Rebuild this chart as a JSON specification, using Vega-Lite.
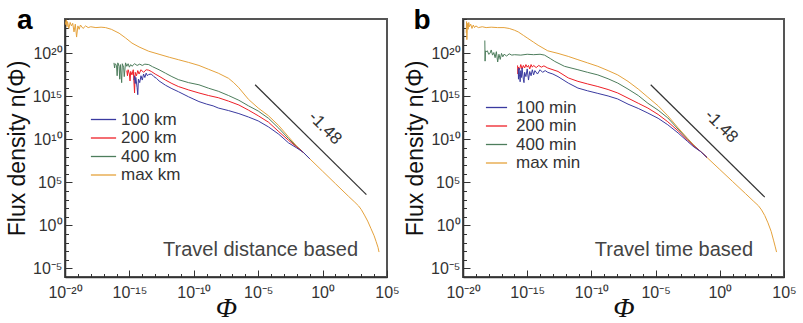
{
  "$schema": "https://vega.github.io/schema/vega-lite/v6.json",
  "padding": {"left": 5, "top": 5, "right": 0, "bottom": 0},
  "spacing": 2,
  "config": {
    "font": "Liberation Sans",
    "view": {"stroke": "#555", "strokeWidth": 2},
    "axis": {"grid": false, "domainColor": "#333", "domainWidth": 1.5, "tickColor": "#333", "tickWidth": 1, "labelColor": "#333", "labelFont": "Liberation Sans", "labelFontSize": 16, "labelFlush": false, "labelOverlap": false, "titleColor": "#111", "titleFontWeight": "normal"}
  },
  "resolve": {"scale": {"color": "independent"}, "legend": {"color": "independent"}},
  "datasets": {
    "curves": [
      {"panel":"a","series":"max km","phi":1e-20,"flux":2.0e23},
      {"panel":"a","series":"max km","phi":1.26e-20,"flux":7.94e23},
      {"panel":"a","series":"max km","phi":1.41e-20,"flux":1.26e23},
      {"panel":"a","series":"max km","phi":1.58e-20,"flux":5.01e23},
      {"panel":"a","series":"max km","phi":2.0e-20,"flux":7.94e22},
      {"panel":"a","series":"max km","phi":2.51e-20,"flux":3.98e23},
      {"panel":"a","series":"max km","phi":3.16e-20,"flux":1.58e23},
      {"panel":"a","series":"max km","phi":3.98e-20,"flux":3.16e23},
      {"panel":"a","series":"max km","phi":5.01e-20,"flux":3.16e22},
      {"panel":"a","series":"max km","phi":6.31e-20,"flux":2.51e23},
      {"panel":"a","series":"max km","phi":7.94e-20,"flux":7.94e21},
      {"panel":"a","series":"max km","phi":1e-19,"flux":1.58e23},
      {"panel":"a","series":"max km","phi":1.26e-19,"flux":6.31e22},
      {"panel":"a","series":"max km","phi":1.58e-19,"flux":2.0e23},
      {"panel":"a","series":"max km","phi":2.51e-19,"flux":7.94e22},
      {"panel":"a","series":"max km","phi":3.98e-19,"flux":1.58e23},
      {"panel":"a","series":"max km","phi":6.31e-19,"flux":1e23},
      {"panel":"a","series":"max km","phi":1e-18,"flux":1.26e23},
      {"panel":"a","series":"max km","phi":2.51e-18,"flux":1e23},
      {"panel":"a","series":"max km","phi":6.31e-18,"flux":1.12e23},
      {"panel":"a","series":"max km","phi":1.41e-17,"flux":1e23},
      {"panel":"a","series":"max km","phi":3.98e-17,"flux":6.31e22},
      {"panel":"a","series":"max km","phi":1.58e-16,"flux":2.24e22},
      {"panel":"a","series":"max km","phi":5.01e-16,"flux":6.31e21},
      {"panel":"a","series":"max km","phi":1.58e-15,"flux":1.58e21},
      {"panel":"a","series":"max km","phi":5.62e-15,"flux":5.62e20},
      {"panel":"a","series":"max km","phi":3.16e-14,"flux":1.78e20},
      {"panel":"a","series":"max km","phi":2.0e-13,"flux":7.94e19},
      {"panel":"a","series":"max km","phi":1.26e-12,"flux":3.55e19},
      {"panel":"a","series":"max km","phi":6.31e-12,"flux":1.86e19},
      {"panel":"a","series":"max km","phi":3.98e-11,"flux":8.91e18},
      {"panel":"a","series":"max km","phi":2.51e-10,"flux":3.98e18},
      {"panel":"a","series":"max km","phi":1.41e-9,"flux":1.41e18},
      {"panel":"a","series":"max km","phi":7.94e-9,"flux":5.01e17},
      {"panel":"a","series":"max km","phi":5.01e-8,"flux":1.26e17},
      {"panel":"a","series":"max km","phi":1.26e-7,"flux":3.98e16},
      {"panel":"a","series":"max km","phi":3.16e-7,"flux":1e16},
      {"panel":"a","series":"max km","phi":1.78e-6,"flux":4.47e14},
      {"panel":"a","series":"max km","phi":1e-5,"flux":4.47e13},
      {"panel":"a","series":"max km","phi":6.31e-5,"flux":5.62e12},
      {"panel":"a","series":"max km","phi":3.98e-4,"flux":3.98e11},
      {"panel":"a","series":"max km","phi":2.24e-3,"flux":2.0e10},
      {"panel":"a","series":"max km","phi":0.01,"flux":1.58e9},
      {"panel":"a","series":"max km","phi":0.0316,"flux":3.16e8},
      {"panel":"a","series":"max km","phi":0.1,"flux":5.62e7},
      {"panel":"a","series":"max km","phi":1,"flux":2.0e6},
      {"panel":"a","series":"max km","phi":10,"flux":7.08e4},
      {"panel":"a","series":"max km","phi":100,"flux":2510},
      {"panel":"a","series":"max km","phi":316,"flux":501},
      {"panel":"a","series":"max km","phi":631,"flux":178},
      {"panel":"a","series":"max km","phi":1000,"flux":70.8},
      {"panel":"a","series":"max km","phi":1780,"flux":15.8},
      {"panel":"a","series":"max km","phi":3160,"flux":3.16},
      {"panel":"a","series":"max km","phi":5620,"flux":0.447},
      {"panel":"a","series":"max km","phi":1e4,"flux":0.0631},
      {"panel":"a","series":"max km","phi":1.41e4,"flux":0.0141},
      {"panel":"a","series":"max km","phi":2.0e4,"flux":2.82e-3},
      {"panel":"a","series":"max km","phi":2.4e4,"flux":7.94e-4},

      {"panel":"a","series":"400 km","phi":6.31e-17,"flux":7.94e18},
      {"panel":"a","series":"400 km","phi":7.08e-17,"flux":2.0e18},
      {"panel":"a","series":"400 km","phi":7.94e-17,"flux":6.31e18},
      {"panel":"a","series":"400 km","phi":1e-16,"flux":3.98e18},
      {"panel":"a","series":"400 km","phi":1.12e-16,"flux":2.51e17},
      {"panel":"a","series":"400 km","phi":1.26e-16,"flux":7.94e18},
      {"panel":"a","series":"400 km","phi":1.58e-16,"flux":3.16e18},
      {"panel":"a","series":"400 km","phi":1.78e-16,"flux":1e17},
      {"panel":"a","series":"400 km","phi":2.0e-16,"flux":5.01e18},
      {"panel":"a","series":"400 km","phi":2.51e-16,"flux":3.98e16},
      {"panel":"a","series":"400 km","phi":2.82e-16,"flux":6.31e18},
      {"panel":"a","series":"400 km","phi":3.55e-16,"flux":2.51e18},
      {"panel":"a","series":"400 km","phi":3.98e-16,"flux":2.0e17},
      {"panel":"a","series":"400 km","phi":5.01e-16,"flux":7.94e18},
      {"panel":"a","series":"400 km","phi":6.31e-16,"flux":3.16e18},
      {"panel":"a","series":"400 km","phi":7.94e-16,"flux":6.31e18},
      {"panel":"a","series":"400 km","phi":1e-15,"flux":2.51e18},
      {"panel":"a","series":"400 km","phi":1.26e-15,"flux":5.01e18},
      {"panel":"a","series":"400 km","phi":1.58e-15,"flux":3.16e18},
      {"panel":"a","series":"400 km","phi":2.51e-15,"flux":6.31e18},
      {"panel":"a","series":"400 km","phi":3.98e-15,"flux":3.98e18},
      {"panel":"a","series":"400 km","phi":6.31e-15,"flux":5.62e18},
      {"panel":"a","series":"400 km","phi":1e-14,"flux":3.98e18},
      {"panel":"a","series":"400 km","phi":1.58e-14,"flux":5.62e18},
      {"panel":"a","series":"400 km","phi":3.16e-14,"flux":5.01e18},
      {"panel":"a","series":"400 km","phi":6.31e-14,"flux":2.82e18},
      {"panel":"a","series":"400 km","phi":2.0e-13,"flux":1.26e18},
      {"panel":"a","series":"400 km","phi":6.31e-13,"flux":5.01e17},
      {"panel":"a","series":"400 km","phi":2.0e-12,"flux":2.0e17},
      {"panel":"a","series":"400 km","phi":6.31e-12,"flux":8.91e16},
      {"panel":"a","series":"400 km","phi":3.98e-11,"flux":3.98e16},
      {"panel":"a","series":"400 km","phi":2.51e-10,"flux":2.24e16},
      {"panel":"a","series":"400 km","phi":1.41e-9,"flux":8.91e15},
      {"panel":"a","series":"400 km","phi":7.94e-9,"flux":3.98e15},
      {"panel":"a","series":"400 km","phi":5.01e-8,"flux":1.26e15},
      {"panel":"a","series":"400 km","phi":3.16e-7,"flux":3.55e14},
      {"panel":"a","series":"400 km","phi":1.78e-6,"flux":7.94e13},
      {"panel":"a","series":"400 km","phi":1e-5,"flux":2.0e13},
      {"panel":"a","series":"400 km","phi":6.31e-5,"flux":2.82e12},
      {"panel":"a","series":"400 km","phi":3.98e-4,"flux":2.0e11},
      {"panel":"a","series":"400 km","phi":2.24e-3,"flux":1.26e10},
      {"panel":"a","series":"400 km","phi":0.01,"flux":1.41e9},
      {"panel":"a","series":"400 km","phi":0.0316,"flux":3.16e8},
      {"panel":"a","series":"400 km","phi":0.1,"flux":5.62e7},

      {"panel":"a","series":"200 km","phi":6.31e-16,"flux":1e18},
      {"panel":"a","series":"200 km","phi":7.08e-16,"flux":2.51e17},
      {"panel":"a","series":"200 km","phi":7.94e-16,"flux":1.26e18},
      {"panel":"a","series":"200 km","phi":1e-15,"flux":3.98e17},
      {"panel":"a","series":"200 km","phi":1.12e-15,"flux":6.31e16},
      {"panel":"a","series":"200 km","phi":1.26e-15,"flux":7.94e17},
      {"panel":"a","series":"200 km","phi":1.58e-15,"flux":3.16e17},
      {"panel":"a","series":"200 km","phi":2.0e-15,"flux":1.26e18},
      {"panel":"a","series":"200 km","phi":2.51e-15,"flux":2.51e15},
      {"panel":"a","series":"200 km","phi":2.82e-15,"flux":6.31e17},
      {"panel":"a","series":"200 km","phi":3.55e-15,"flux":2.51e17},
      {"panel":"a","series":"200 km","phi":4.47e-15,"flux":1e18},
      {"panel":"a","series":"200 km","phi":5.62e-15,"flux":3.98e17},
      {"panel":"a","series":"200 km","phi":7.94e-15,"flux":1.26e18},
      {"panel":"a","series":"200 km","phi":1.26e-14,"flux":6.31e17},
      {"panel":"a","series":"200 km","phi":2.0e-14,"flux":1.26e18},
      {"panel":"a","series":"200 km","phi":3.16e-14,"flux":1.12e18},
      {"panel":"a","series":"200 km","phi":5.01e-14,"flux":7.94e17},
      {"panel":"a","series":"200 km","phi":1e-13,"flux":3.98e17},
      {"panel":"a","series":"200 km","phi":2.0e-13,"flux":2.24e17},
      {"panel":"a","series":"200 km","phi":6.31e-13,"flux":7.94e16},
      {"panel":"a","series":"200 km","phi":2.0e-12,"flux":3.16e16},
      {"panel":"a","series":"200 km","phi":6.31e-12,"flux":1.41e16},
      {"panel":"a","series":"200 km","phi":3.98e-11,"flux":5.62e15},
      {"panel":"a","series":"200 km","phi":2.51e-10,"flux":2.51e15},
      {"panel":"a","series":"200 km","phi":1.41e-9,"flux":1.26e15},
      {"panel":"a","series":"200 km","phi":7.94e-9,"flux":7.08e14},
      {"panel":"a","series":"200 km","phi":5.01e-8,"flux":2.82e14},
      {"panel":"a","series":"200 km","phi":3.16e-7,"flux":1e14},
      {"panel":"a","series":"200 km","phi":1.78e-6,"flux":2.51e13},
      {"panel":"a","series":"200 km","phi":1e-5,"flux":5.62e12},
      {"panel":"a","series":"200 km","phi":6.31e-5,"flux":1e12},
      {"panel":"a","series":"200 km","phi":3.98e-4,"flux":7.94e10},
      {"panel":"a","series":"200 km","phi":2.24e-3,"flux":7.94e9},
      {"panel":"a","series":"200 km","phi":0.01,"flux":1.26e9},
      {"panel":"a","series":"200 km","phi":0.0316,"flux":3.16e8},
      {"panel":"a","series":"200 km","phi":0.1,"flux":5.62e7},

      {"panel":"a","series":"100 km","phi":2.24e-15,"flux":7.94e16},
      {"panel":"a","series":"100 km","phi":2.51e-15,"flux":2.51e17},
      {"panel":"a","series":"100 km","phi":2.82e-15,"flux":3.16e16},
      {"panel":"a","series":"100 km","phi":3.16e-15,"flux":1.58e17},
      {"panel":"a","series":"100 km","phi":3.98e-15,"flux":1e16},
      {"panel":"a","series":"100 km","phi":4.47e-15,"flux":1.58e15},
      {"panel":"a","series":"100 km","phi":5.01e-15,"flux":1e17},
      {"panel":"a","series":"100 km","phi":6.31e-15,"flux":3.98e16},
      {"panel":"a","series":"100 km","phi":7.94e-15,"flux":2.51e17},
      {"panel":"a","series":"100 km","phi":1e-14,"flux":7.94e16},
      {"panel":"a","series":"100 km","phi":1.26e-14,"flux":3.98e17},
      {"panel":"a","series":"100 km","phi":1.58e-14,"flux":1.58e17},
      {"panel":"a","series":"100 km","phi":2.0e-14,"flux":5.01e17},
      {"panel":"a","series":"100 km","phi":2.51e-14,"flux":2.51e17},
      {"panel":"a","series":"100 km","phi":3.16e-14,"flux":3.55e17},
      {"panel":"a","series":"100 km","phi":5.01e-14,"flux":3.98e17},
      {"panel":"a","series":"100 km","phi":7.94e-14,"flux":2.0e17},
      {"panel":"a","series":"100 km","phi":1.26e-13,"flux":1.26e17},
      {"panel":"a","series":"100 km","phi":2.0e-13,"flux":6.31e16},
      {"panel":"a","series":"100 km","phi":6.31e-13,"flux":2.0e16},
      {"panel":"a","series":"100 km","phi":2.0e-12,"flux":7.94e15},
      {"panel":"a","series":"100 km","phi":6.31e-12,"flux":3.55e15},
      {"panel":"a","series":"100 km","phi":3.98e-11,"flux":8.91e14},
      {"panel":"a","series":"100 km","phi":2.51e-10,"flux":2.51e14},
      {"panel":"a","series":"100 km","phi":1e-9,"flux":1.26e14},
      {"panel":"a","series":"100 km","phi":3.16e-9,"flux":7.94e13},
      {"panel":"a","series":"100 km","phi":7.94e-9,"flux":4.47e13},
      {"panel":"a","series":"100 km","phi":5.01e-8,"flux":2.24e13},
      {"panel":"a","series":"100 km","phi":3.16e-7,"flux":1e13},
      {"panel":"a","series":"100 km","phi":1.78e-6,"flux":3.98e12},
      {"panel":"a","series":"100 km","phi":1e-5,"flux":1.41e12},
      {"panel":"a","series":"100 km","phi":6.31e-5,"flux":2.82e11},
      {"panel":"a","series":"100 km","phi":3.98e-4,"flux":3.98e10},
      {"panel":"a","series":"100 km","phi":2.24e-3,"flux":3.98e9},
      {"panel":"a","series":"100 km","phi":0.01,"flux":1e9},
      {"panel":"a","series":"100 km","phi":0.0316,"flux":3.16e8},
      {"panel":"a","series":"100 km","phi":0.1,"flux":5.62e7},

      {"panel":"b","series":"max min","phi":1.78e-20,"flux":2.51e22},
      {"panel":"b","series":"max min","phi":1.91e-20,"flux":5.01e23},
      {"panel":"b","series":"max min","phi":2.0e-20,"flux":3.98e21},
      {"panel":"b","series":"max min","phi":2.19e-20,"flux":3.16e23},
      {"panel":"b","series":"max min","phi":2.51e-20,"flux":6.31e22},
      {"panel":"b","series":"max min","phi":2.82e-20,"flux":3.98e23},
      {"panel":"b","series":"max min","phi":3.16e-20,"flux":1.26e23},
      {"panel":"b","series":"max min","phi":3.98e-20,"flux":2.51e23},
      {"panel":"b","series":"max min","phi":5.01e-20,"flux":7.94e22},
      {"panel":"b","series":"max min","phi":6.31e-20,"flux":2.0e23},
      {"panel":"b","series":"max min","phi":7.94e-20,"flux":1e23},
      {"panel":"b","series":"max min","phi":1e-19,"flux":1.58e23},
      {"panel":"b","series":"max min","phi":1.58e-19,"flux":1e23},
      {"panel":"b","series":"max min","phi":3.16e-19,"flux":1.26e23},
      {"panel":"b","series":"max min","phi":6.31e-19,"flux":1e23},
      {"panel":"b","series":"max min","phi":1.58e-18,"flux":1.12e23},
      {"panel":"b","series":"max min","phi":5.01e-18,"flux":1e23},
      {"panel":"b","series":"max min","phi":1.58e-17,"flux":1e23},
      {"panel":"b","series":"max min","phi":3.98e-17,"flux":7.94e22},
      {"panel":"b","series":"max min","phi":1e-16,"flux":5.01e22},
      {"panel":"b","series":"max min","phi":2.0e-16,"flux":3.16e22},
      {"panel":"b","series":"max min","phi":5.01e-16,"flux":1.26e22},
      {"panel":"b","series":"max min","phi":1.12e-15,"flux":5.62e21},
      {"panel":"b","series":"max min","phi":3.16e-15,"flux":2.0e21},
      {"panel":"b","series":"max min","phi":7.08e-15,"flux":8.91e20},
      {"panel":"b","series":"max min","phi":3.98e-14,"flux":2.0e20},
      {"panel":"b","series":"max min","phi":2.51e-13,"flux":1e20},
      {"panel":"b","series":"max min","phi":1.58e-12,"flux":4.47e19},
      {"panel":"b","series":"max min","phi":8.91e-12,"flux":1.86e19},
      {"panel":"b","series":"max min","phi":5.01e-11,"flux":7.94e18},
      {"panel":"b","series":"max min","phi":3.16e-10,"flux":3.16e18},
      {"panel":"b","series":"max min","phi":2.0e-9,"flux":1e18},
      {"panel":"b","series":"max min","phi":1.12e-8,"flux":3.16e17},
      {"panel":"b","series":"max min","phi":7.08e-8,"flux":5.62e16},
      {"panel":"b","series":"max min","phi":4.47e-7,"flux":7.08e15},
      {"panel":"b","series":"max min","phi":2.51e-6,"flux":7.94e14},
      {"panel":"b","series":"max min","phi":1.58e-5,"flux":7.94e13},
      {"panel":"b","series":"max min","phi":8.91e-5,"flux":5.62e12},
      {"panel":"b","series":"max min","phi":5.62e-4,"flux":2.24e11},
      {"panel":"b","series":"max min","phi":3.16e-3,"flux":1.26e10},
      {"panel":"b","series":"max min","phi":0.01,"flux":2.0e9},
      {"panel":"b","series":"max min","phi":0.0316,"flux":3.98e8},
      {"panel":"b","series":"max min","phi":0.1,"flux":7.94e7},
      {"panel":"b","series":"max min","phi":1,"flux":3.16e6},
      {"panel":"b","series":"max min","phi":10,"flux":1.26e5},
      {"panel":"b","series":"max min","phi":100,"flux":5010},
      {"panel":"b","series":"max min","phi":398,"flux":708},
      {"panel":"b","series":"max min","phi":1000,"flux":200},
      {"panel":"b","series":"max min","phi":1780,"flux":63.1},
      {"panel":"b","series":"max min","phi":3160,"flux":14.1},
      {"panel":"b","series":"max min","phi":5620,"flux":2.0},
      {"panel":"b","series":"max min","phi":1e4,"flux":0.2},
      {"panel":"b","series":"max min","phi":1.58e4,"flux":0.0158},
      {"panel":"b","series":"max min","phi":2.09e4,"flux":3.16e-3},
      {"panel":"b","series":"max min","phi":2.63e4,"flux":7.94e-4},

      {"panel":"b","series":"400 min","phi":5.01e-19,"flux":3.16e21},
      {"panel":"b","series":"400 min","phi":5.25e-19,"flux":1.26e19},
      {"panel":"b","series":"400 min","phi":5.62e-19,"flux":2.0e20},
      {"panel":"b","series":"400 min","phi":6.31e-19,"flux":1.58e20},
      {"panel":"b","series":"400 min","phi":7.94e-19,"flux":2.0e20},
      {"panel":"b","series":"400 min","phi":1e-18,"flux":7.94e19},
      {"panel":"b","series":"400 min","phi":1.26e-18,"flux":1e20},
      {"panel":"b","series":"400 min","phi":1.58e-18,"flux":2.51e20},
      {"panel":"b","series":"400 min","phi":2.0e-18,"flux":6.31e19},
      {"panel":"b","series":"400 min","phi":2.51e-18,"flux":1.26e20},
      {"panel":"b","series":"400 min","phi":3.16e-18,"flux":3.16e19},
      {"panel":"b","series":"400 min","phi":3.98e-18,"flux":1.58e20},
      {"panel":"b","series":"400 min","phi":5.01e-18,"flux":1e19},
      {"panel":"b","series":"400 min","phi":6.31e-18,"flux":7.94e19},
      {"panel":"b","series":"400 min","phi":7.94e-18,"flux":2.0e19},
      {"panel":"b","series":"400 min","phi":1e-17,"flux":1e20},
      {"panel":"b","series":"400 min","phi":1.26e-17,"flux":3.98e19},
      {"panel":"b","series":"400 min","phi":1.58e-17,"flux":7.94e19},
      {"panel":"b","series":"400 min","phi":2.51e-17,"flux":5.01e19},
      {"panel":"b","series":"400 min","phi":3.98e-17,"flux":8.91e19},
      {"panel":"b","series":"400 min","phi":6.31e-17,"flux":6.31e19},
      {"panel":"b","series":"400 min","phi":1e-16,"flux":7.08e19},
      {"panel":"b","series":"400 min","phi":3.16e-16,"flux":6.31e19},
      {"panel":"b","series":"400 min","phi":1e-15,"flux":7.94e19},
      {"panel":"b","series":"400 min","phi":3.16e-15,"flux":7.08e19},
      {"panel":"b","series":"400 min","phi":1e-14,"flux":7.94e19},
      {"panel":"b","series":"400 min","phi":2.24e-14,"flux":6.31e19},
      {"panel":"b","series":"400 min","phi":6.31e-14,"flux":2.51e19},
      {"panel":"b","series":"400 min","phi":1.41e-13,"flux":1.17e19},
      {"panel":"b","series":"400 min","phi":7.94e-13,"flux":3.16e18},
      {"panel":"b","series":"400 min","phi":8.91e-12,"flux":1.26e18},
      {"panel":"b","series":"400 min","phi":5.01e-11,"flux":6.31e17},
      {"panel":"b","series":"400 min","phi":3.16e-10,"flux":3.16e17},
      {"panel":"b","series":"400 min","phi":2.0e-9,"flux":1.12e17},
      {"panel":"b","series":"400 min","phi":1.12e-8,"flux":3.55e16},
      {"panel":"b","series":"400 min","phi":7.08e-8,"flux":7.08e15},
      {"panel":"b","series":"400 min","phi":4.47e-7,"flux":1.26e15},
      {"panel":"b","series":"400 min","phi":2.51e-6,"flux":1.58e14},
      {"panel":"b","series":"400 min","phi":1.58e-5,"flux":2.51e13},
      {"panel":"b","series":"400 min","phi":8.91e-5,"flux":3.16e12},
      {"panel":"b","series":"400 min","phi":5.62e-4,"flux":1.58e11},
      {"panel":"b","series":"400 min","phi":3.16e-3,"flux":1e10},
      {"panel":"b","series":"400 min","phi":0.01,"flux":1.78e9},
      {"panel":"b","series":"400 min","phi":0.0316,"flux":3.98e8},
      {"panel":"b","series":"400 min","phi":0.1,"flux":7.94e7},

      {"panel":"b","series":"200 min","phi":1.78e-16,"flux":3.98e18},
      {"panel":"b","series":"200 min","phi":1.91e-16,"flux":3.98e17},
      {"panel":"b","series":"200 min","phi":2.09e-16,"flux":2.51e18},
      {"panel":"b","series":"200 min","phi":2.51e-16,"flux":1.26e18},
      {"panel":"b","series":"200 min","phi":3.16e-16,"flux":5.01e18},
      {"panel":"b","series":"200 min","phi":3.98e-16,"flux":1.58e18},
      {"panel":"b","series":"200 min","phi":5.01e-16,"flux":3.98e18},
      {"panel":"b","series":"200 min","phi":6.31e-16,"flux":2.0e18},
      {"panel":"b","series":"200 min","phi":7.94e-16,"flux":5.01e18},
      {"panel":"b","series":"200 min","phi":1e-15,"flux":2.51e18},
      {"panel":"b","series":"200 min","phi":1.26e-15,"flux":3.98e18},
      {"panel":"b","series":"200 min","phi":1.58e-15,"flux":1.58e18},
      {"panel":"b","series":"200 min","phi":2.0e-15,"flux":5.01e18},
      {"panel":"b","series":"200 min","phi":2.51e-15,"flux":2.51e18},
      {"panel":"b","series":"200 min","phi":3.16e-15,"flux":3.98e18},
      {"panel":"b","series":"200 min","phi":5.01e-15,"flux":2.24e18},
      {"panel":"b","series":"200 min","phi":7.94e-15,"flux":3.98e18},
      {"panel":"b","series":"200 min","phi":1.26e-14,"flux":2.51e18},
      {"panel":"b","series":"200 min","phi":2.0e-14,"flux":3.55e18},
      {"panel":"b","series":"200 min","phi":3.98e-14,"flux":2.0e18},
      {"panel":"b","series":"200 min","phi":2.51e-13,"flux":7.94e17},
      {"panel":"b","series":"200 min","phi":1.58e-12,"flux":1.41e17},
      {"panel":"b","series":"200 min","phi":8.91e-12,"flux":5.62e16},
      {"panel":"b","series":"200 min","phi":5.01e-11,"flux":2.82e16},
      {"panel":"b","series":"200 min","phi":3.16e-10,"flux":1.41e16},
      {"panel":"b","series":"200 min","phi":2.0e-9,"flux":6.31e15},
      {"panel":"b","series":"200 min","phi":1.12e-8,"flux":2.51e15},
      {"panel":"b","series":"200 min","phi":7.08e-8,"flux":6.31e14},
      {"panel":"b","series":"200 min","phi":4.47e-7,"flux":1.58e14},
      {"panel":"b","series":"200 min","phi":2.51e-6,"flux":4.37e13},
      {"panel":"b","series":"200 min","phi":1.58e-5,"flux":7.94e12},
      {"panel":"b","series":"200 min","phi":8.91e-5,"flux":1.12e12},
      {"panel":"b","series":"200 min","phi":5.62e-4,"flux":1e11},
      {"panel":"b","series":"200 min","phi":3.16e-3,"flux":7.94e9},
      {"panel":"b","series":"200 min","phi":0.01,"flux":1.58e9},
      {"panel":"b","series":"200 min","phi":0.0316,"flux":3.98e8},
      {"panel":"b","series":"200 min","phi":0.1,"flux":7.94e7},

      {"panel":"b","series":"100 min","phi":2.0e-16,"flux":1.58e18},
      {"panel":"b","series":"100 min","phi":2.09e-16,"flux":1e17},
      {"panel":"b","series":"100 min","phi":2.29e-16,"flux":2.0e18},
      {"panel":"b","series":"100 min","phi":2.51e-16,"flux":3.16e17},
      {"panel":"b","series":"100 min","phi":2.82e-16,"flux":5.01e16},
      {"panel":"b","series":"100 min","phi":3.16e-16,"flux":1e18},
      {"panel":"b","series":"100 min","phi":3.55e-16,"flux":1.58e17},
      {"panel":"b","series":"100 min","phi":3.98e-16,"flux":2.0e18},
      {"panel":"b","series":"100 min","phi":5.01e-16,"flux":1e17},
      {"panel":"b","series":"100 min","phi":5.62e-16,"flux":3.98e16},
      {"panel":"b","series":"100 min","phi":6.31e-16,"flux":6.31e17},
      {"panel":"b","series":"100 min","phi":7.94e-16,"flux":2.0e17},
      {"panel":"b","series":"100 min","phi":1e-15,"flux":1.58e18},
      {"panel":"b","series":"100 min","phi":1.26e-15,"flux":7.94e16},
      {"panel":"b","series":"100 min","phi":1.58e-15,"flux":7.94e17},
      {"panel":"b","series":"100 min","phi":2.0e-15,"flux":2.51e17},
      {"panel":"b","series":"100 min","phi":2.51e-15,"flux":1.26e18},
      {"panel":"b","series":"100 min","phi":3.16e-15,"flux":3.16e17},
      {"panel":"b","series":"100 min","phi":3.98e-15,"flux":1e18},
      {"panel":"b","series":"100 min","phi":6.31e-15,"flux":3.98e17},
      {"panel":"b","series":"100 min","phi":1e-14,"flux":1.26e18},
      {"panel":"b","series":"100 min","phi":1.58e-14,"flux":6.31e17},
      {"panel":"b","series":"100 min","phi":2.51e-14,"flux":1e18},
      {"panel":"b","series":"100 min","phi":3.98e-14,"flux":6.31e17},
      {"panel":"b","series":"100 min","phi":1e-13,"flux":3.98e17},
      {"panel":"b","series":"100 min","phi":2.51e-13,"flux":2.0e17},
      {"panel":"b","series":"100 min","phi":1.58e-12,"flux":3.55e16},
      {"panel":"b","series":"100 min","phi":8.91e-12,"flux":9.33e15},
      {"panel":"b","series":"100 min","phi":5.01e-11,"flux":4.47e15},
      {"panel":"b","series":"100 min","phi":3.16e-10,"flux":2.24e15},
      {"panel":"b","series":"100 min","phi":2.0e-9,"flux":1.12e15},
      {"panel":"b","series":"100 min","phi":1.12e-8,"flux":5.01e14},
      {"panel":"b","series":"100 min","phi":7.08e-8,"flux":1.26e14},
      {"panel":"b","series":"100 min","phi":4.47e-7,"flux":3.98e13},
      {"panel":"b","series":"100 min","phi":2.51e-6,"flux":1.15e13},
      {"panel":"b","series":"100 min","phi":1.58e-5,"flux":2.82e12},
      {"panel":"b","series":"100 min","phi":8.91e-5,"flux":5.01e11},
      {"panel":"b","series":"100 min","phi":5.62e-4,"flux":5.62e10},
      {"panel":"b","series":"100 min","phi":3.16e-3,"flux":5.62e9},
      {"panel":"b","series":"100 min","phi":0.01,"flux":1.26e9},
      {"panel":"b","series":"100 min","phi":0.0316,"flux":3.98e8},
      {"panel":"b","series":"100 min","phi":0.1,"flux":7.94e7}
    ],
    "slopes": [
      {"panel":"a","phi":5.75e-6,"flux":2.29e16},
      {"panel":"a","phi":2510,"flux":3720},
      {"panel":"b","phi":4.17e-6,"flux":2.29e16},
      {"panel":"b","phi":3160,"flux":1950}
    ],
    "notes": [
      {"panel":"a","kind":"slope","label":"-1.48","phi":1.51,"flux":2.0e11},
      {"panel":"a","kind":"basis","label":"Travel distance based","phi":562,"flux":1.48e-3},
      {"panel":"a","kind":"letter","label":"a","phi":7.4e-24,"flux":6.9e22},
      {"panel":"b","kind":"slope","label":"-1.48","phi":1.32,"flux":3.16e11},
      {"panel":"b","kind":"basis","label":"Travel time based","phi":389,"flux":1.48e-3},
      {"panel":"b","kind":"letter","label":"b","phi":6.5e-24,"flux":6.9e22}
    ]
  },
  "hconcat": [
    {
      "width": 322,
      "height": 258,
      "layer": [
        {
          "data": {"name": "curves"},
          "transform": [{"filter": "datum.panel === 'a'"}],
          "mark": {"type": "line", "strokeWidth": 1, "clip": true},
          "encoding": {
            "x": {"field": "phi", "type": "quantitative", "scale": {"type": "log", "domain": [1e-20, 1e5], "nice": false},
              "axis": {"values": [1e-20,1e-19,1e-18,1e-17,1e-16,1e-15,1e-14,1e-13,1e-12,1e-11,1e-10,1e-9,1e-8,1e-7,1e-6,1e-5,1e-4,1e-3,1e-2,1e-1,1,10,100,1000,1e4,1e5],
                "labelExpr": "round(log(datum.value)/LN10) == -20 ? '10⁻²⁰' : round(log(datum.value)/LN10) == -15 ? '10⁻¹⁵' : round(log(datum.value)/LN10) == -10 ? '10⁻¹⁰' : round(log(datum.value)/LN10) == -5 ? '10⁻⁵' : round(log(datum.value)/LN10) == 0 ? '10⁰' : round(log(datum.value)/LN10) == 5 ? '10⁵' : ''",
                "tickSize": {"condition": {"test": "abs(round(log(datum.value)/LN10)) % 5 == 0", "value": -7}, "value": -3.5},
                "labelPadding": 14,
                "title": "Φ", "titleFont": "Liberation Serif", "titleFontStyle": "italic", "titleFontSize": 28, "titlePadding": -9}},
            "y": {"field": "flux", "type": "quantitative", "scale": {"type": "log", "domain": [1e-6, 1e24], "nice": false},
              "axis": {"values": [1e-6,1e-5,1e-4,1e-3,1e-2,1e-1,1,10,100,1000,1e4,1e5,1e6,1e7,1e8,1e9,1e10,1e11,1e12,1e13,1e14,1e15,1e16,1e17,1e18,1e19,1e20,1e21,1e22,1e23,1e24],
                "labelExpr": "round(log(datum.value)/LN10) == -5 ? '10⁻⁵' : round(log(datum.value)/LN10) == 0 ? '10⁰' : round(log(datum.value)/LN10) == 5 ? '10⁵' : round(log(datum.value)/LN10) == 10 ? '10¹⁰' : round(log(datum.value)/LN10) == 15 ? '10¹⁵' : round(log(datum.value)/LN10) == 20 ? '10²⁰' : ''",
                "tickSize": {"condition": {"test": "abs(round(log(datum.value)/LN10)) % 5 == 0", "value": -7}, "value": -3.5},
                "labelPadding": 10,
                "title": "Flux density n(Φ)", "titleFontSize": 23, "titlePadding": 3}},
            "color": {"field": "series", "type": "nominal",
              "scale": {"domain": ["100 km", "200 km", "400 km", "max km"], "range": ["#3a3aa0", "#ee1f27", "#4d7d5c", "#e5a23c"]},
              "legend": {"orient": "none", "legendX": 30, "legendY": 92, "title": null, "symbolType": "M-2.8,0H2.8", "symbolSize": 81, "symbolStrokeWidth": 1.3, "labelFontSize": 17, "labelColor": "#333", "labelOffset": 9, "rowPadding": 0.5, "padding": 0}}
          }
        },
        {
          "data": {"name": "slopes"},
          "transform": [{"filter": "datum.panel === 'a'"}],
          "mark": {"type": "line", "color": "#333", "strokeWidth": 1.2},
          "encoding": {"x": {"field": "phi", "type": "quantitative"}, "y": {"field": "flux", "type": "quantitative"}}
        },
        {
          "data": {"name": "notes"},
          "transform": [{"filter": "datum.panel === 'a' && datum.kind === 'slope'"}],
          "mark": {"type": "text", "angle": 45, "fontSize": 17, "color": "#333", "align": "center", "baseline": "middle"},
          "encoding": {"x": {"field": "phi", "type": "quantitative"}, "y": {"field": "flux", "type": "quantitative"}, "text": {"field": "label"}}
        },
        {
          "data": {"name": "notes"},
          "transform": [{"filter": "datum.panel === 'a' && datum.kind === 'basis'"}],
          "mark": {"type": "text", "fontSize": 20, "font": "Liberation Sans", "color": "#444", "align": "right", "baseline": "middle"},
          "encoding": {"x": {"field": "phi", "type": "quantitative"}, "y": {"field": "flux", "type": "quantitative"}, "text": {"field": "label"}}
        },
        {
          "data": {"name": "notes"},
          "transform": [{"filter": "datum.panel === 'a' && datum.kind === 'letter'"}],
          "mark": {"type": "text", "fontSize": 28, "fontWeight": "bold", "font": "Liberation Sans", "color": "#000", "align": "center", "baseline": "alphabetic", "clip": false},
          "encoding": {"x": {"field": "phi", "type": "quantitative"}, "y": {"field": "flux", "type": "quantitative"}, "text": {"field": "label"}}
        }
      ]
    },
    {
      "width": 321,
      "height": 258,
      "layer": [
        {
          "data": {"name": "curves"},
          "transform": [{"filter": "datum.panel === 'b'"}],
          "mark": {"type": "line", "strokeWidth": 1, "clip": true},
          "encoding": {
            "x": {"field": "phi", "type": "quantitative", "scale": {"type": "log", "domain": [1e-20, 1e5], "nice": false},
              "axis": {"values": [1e-20,1e-19,1e-18,1e-17,1e-16,1e-15,1e-14,1e-13,1e-12,1e-11,1e-10,1e-9,1e-8,1e-7,1e-6,1e-5,1e-4,1e-3,1e-2,1e-1,1,10,100,1000,1e4,1e5],
                "labelExpr": "round(log(datum.value)/LN10) == -20 ? '10⁻²⁰' : round(log(datum.value)/LN10) == -15 ? '10⁻¹⁵' : round(log(datum.value)/LN10) == -10 ? '10⁻¹⁰' : round(log(datum.value)/LN10) == -5 ? '10⁻⁵' : round(log(datum.value)/LN10) == 0 ? '10⁰' : round(log(datum.value)/LN10) == 5 ? '10⁵' : ''",
                "tickSize": {"condition": {"test": "abs(round(log(datum.value)/LN10)) % 5 == 0", "value": -7}, "value": -3.5},
                "labelPadding": 14,
                "title": "Φ", "titleFont": "Liberation Serif", "titleFontStyle": "italic", "titleFontSize": 28, "titlePadding": -9}},
            "y": {"field": "flux", "type": "quantitative", "scale": {"type": "log", "domain": [1e-6, 1e24], "nice": false},
              "axis": {"values": [1e-6,1e-5,1e-4,1e-3,1e-2,1e-1,1,10,100,1000,1e4,1e5,1e6,1e7,1e8,1e9,1e10,1e11,1e12,1e13,1e14,1e15,1e16,1e17,1e18,1e19,1e20,1e21,1e22,1e23,1e24],
                "labelExpr": "round(log(datum.value)/LN10) == -5 ? '10⁻⁵' : round(log(datum.value)/LN10) == 0 ? '10⁰' : round(log(datum.value)/LN10) == 5 ? '10⁵' : round(log(datum.value)/LN10) == 10 ? '10¹⁰' : round(log(datum.value)/LN10) == 15 ? '10¹⁵' : round(log(datum.value)/LN10) == 20 ? '10²⁰' : ''",
                "tickSize": {"condition": {"test": "abs(round(log(datum.value)/LN10)) % 5 == 0", "value": -7}, "value": -3.5},
                "labelPadding": 10,
                "title": "Flux density n(Φ)", "titleFontSize": 23, "titlePadding": 3}},
            "color": {"field": "series", "type": "nominal",
              "scale": {"domain": ["100 min", "200 min", "400 min", "max min"], "range": ["#3a3aa0", "#ee1f27", "#4d7d5c", "#e5a23c"]},
              "legend": {"orient": "none", "legendX": 25, "legendY": 80, "title": null, "symbolType": "M-2.35,0H2.35", "symbolSize": 81, "symbolStrokeWidth": 1.3, "labelFontSize": 17, "labelColor": "#333", "labelOffset": 11, "rowPadding": 0.5, "padding": 0}}
          }
        },
        {
          "data": {"name": "slopes"},
          "transform": [{"filter": "datum.panel === 'b'"}],
          "mark": {"type": "line", "color": "#333", "strokeWidth": 1.2},
          "encoding": {"x": {"field": "phi", "type": "quantitative"}, "y": {"field": "flux", "type": "quantitative"}}
        },
        {
          "data": {"name": "notes"},
          "transform": [{"filter": "datum.panel === 'b' && datum.kind === 'slope'"}],
          "mark": {"type": "text", "angle": 45, "fontSize": 17, "color": "#333", "align": "center", "baseline": "middle"},
          "encoding": {"x": {"field": "phi", "type": "quantitative"}, "y": {"field": "flux", "type": "quantitative"}, "text": {"field": "label"}}
        },
        {
          "data": {"name": "notes"},
          "transform": [{"filter": "datum.panel === 'b' && datum.kind === 'basis'"}],
          "mark": {"type": "text", "fontSize": 20, "font": "Liberation Sans", "color": "#444", "align": "right", "baseline": "middle"},
          "encoding": {"x": {"field": "phi", "type": "quantitative"}, "y": {"field": "flux", "type": "quantitative"}, "text": {"field": "label"}}
        },
        {
          "data": {"name": "notes"},
          "transform": [{"filter": "datum.panel === 'b' && datum.kind === 'letter'"}],
          "mark": {"type": "text", "fontSize": 28, "fontWeight": "bold", "font": "Liberation Sans", "color": "#000", "align": "center", "baseline": "alphabetic", "clip": false},
          "encoding": {"x": {"field": "phi", "type": "quantitative"}, "y": {"field": "flux", "type": "quantitative"}, "text": {"field": "label"}}
        }
      ]
    }
  ]
}
